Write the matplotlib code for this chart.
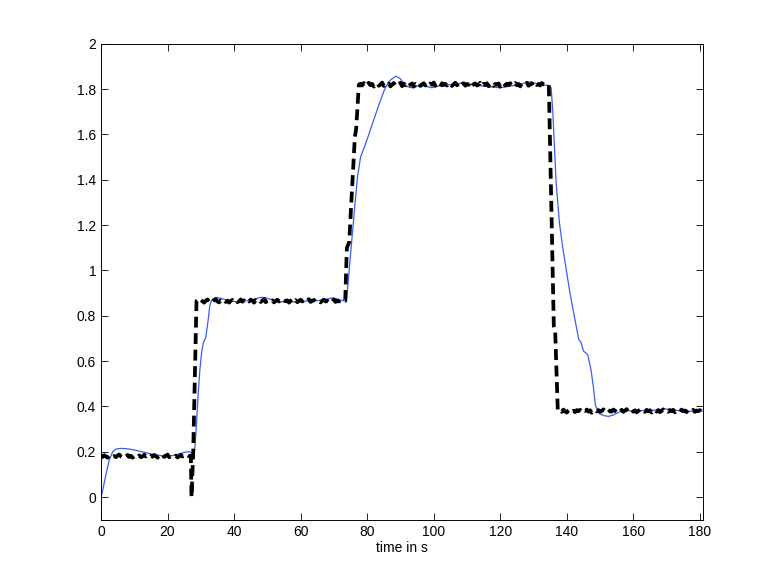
import matplotlib
matplotlib.use('Agg')
import matplotlib.pyplot as plt
from matplotlib.ticker import FormatStrFormatter, MultipleLocator
import numpy as np

plt.rcParams['font.family'] = ['Liberation Sans', 'DejaVu Sans']

# measured reference signal (black, noisy), sampled every 0.5 s on the flat parts
dt = 0.5
seg_start = [0, 29, 78, 138]
seg1_y = [0.183, 0.177, 0.185, 0.179, 0.174, 0.182, 0.187, 0.178, 0.181, 0.176,
          0.184, 0.188, 0.179, 0.175, 0.183, 0.180, 0.186, 0.177, 0.182, 0.174,
          0.181, 0.185, 0.178, 0.184, 0.176, 0.180, 0.187, 0.179, 0.183, 0.175,
          0.182, 0.178, 0.186, 0.181, 0.174, 0.184, 0.179, 0.185, 0.177, 0.182,
          0.188, 0.176, 0.181, 0.184, 0.178, 0.183, 0.175, 0.180, 0.186, 0.179,
          0.182, 0.177, 0.185, 0.180, 0.183]
seg2_y = [0.868, 0.861, 0.870, 0.864, 0.858, 0.867, 0.872, 0.862, 0.866, 0.860,
          0.869, 0.873, 0.863, 0.859, 0.868, 0.865, 0.871, 0.861, 0.867, 0.858,
          0.866, 0.870, 0.863, 0.869, 0.860, 0.864, 0.872, 0.862, 0.868, 0.859,
          0.867, 0.863, 0.871, 0.866, 0.858, 0.869, 0.864, 0.870, 0.861, 0.867,
          0.873, 0.860, 0.866, 0.869, 0.862, 0.868, 0.859, 0.865, 0.871, 0.863,
          0.867, 0.861, 0.870, 0.864, 0.868, 0.858, 0.866, 0.872, 0.862, 0.869,
          0.860, 0.865, 0.871, 0.863, 0.867, 0.859, 0.868, 0.873, 0.861, 0.866,
          0.870, 0.862, 0.868, 0.864, 0.859, 0.867, 0.871, 0.863, 0.866, 0.860,
          0.869, 0.864, 0.872, 0.861, 0.867, 0.863, 0.870, 0.865, 0.866]
seg3_y = [1.824, 1.816, 1.827, 1.813, 1.821, 1.828, 1.817, 1.823, 1.811, 1.822,
          1.826, 1.815, 1.820, 1.829, 1.814, 1.823, 1.818, 1.825, 1.812, 1.821,
          1.827, 1.816, 1.822, 1.819, 1.828, 1.813, 1.824, 1.817, 1.826, 1.815,
          1.820, 1.825, 1.811, 1.823, 1.818, 1.827, 1.814, 1.821, 1.826, 1.816,
          1.822, 1.813, 1.825, 1.819, 1.829, 1.815, 1.821, 1.824, 1.812, 1.826,
          1.818, 1.823, 1.816, 1.827, 1.820, 1.814, 1.822, 1.828, 1.817, 1.824,
          1.813, 1.821, 1.826, 1.815, 1.823, 1.819, 1.827, 1.812, 1.822, 1.825,
          1.816, 1.820, 1.828, 1.814, 1.824, 1.818, 1.826, 1.813, 1.821, 1.827,
          1.815, 1.823, 1.819, 1.825, 1.811, 1.822, 1.828, 1.816, 1.824, 1.818,
          1.826, 1.814, 1.821, 1.827, 1.817, 1.823, 1.812, 1.825, 1.819, 1.822,
          1.828, 1.815, 1.820, 1.826, 1.813, 1.824, 1.818, 1.823, 1.816, 1.827,
          1.821, 1.819, 1.822]
seg4_y = [0.383, 0.376, 0.386, 0.378, 0.373, 0.382, 0.387, 0.377, 0.381, 0.375,
          0.384, 0.379, 0.385, 0.374, 0.382, 0.380, 0.386, 0.377, 0.383, 0.372,
          0.381, 0.385, 0.378, 0.384, 0.376, 0.380, 0.387, 0.379, 0.383, 0.374,
          0.382, 0.377, 0.386, 0.381, 0.375, 0.384, 0.378, 0.385, 0.376, 0.382,
          0.388, 0.375, 0.381, 0.384, 0.377, 0.383, 0.374, 0.380, 0.386, 0.378,
          0.382, 0.376, 0.385, 0.379, 0.383, 0.373, 0.381, 0.386, 0.377, 0.384,
          0.375, 0.380, 0.387, 0.378, 0.382, 0.376, 0.384, 0.379, 0.385, 0.374,
          0.381, 0.383, 0.377, 0.386, 0.379, 0.382, 0.375, 0.384, 0.380, 0.378,
          0.385, 0.376, 0.382, 0.379, 0.384, 0.377, 0.381]

# the steps between the flat parts
step1_t = [27.2, 27.7, 28.7]
step1_y = [0.0, 0.19, 0.865]
step2_t = [73.4, 73.9, 74.6, 76.3, 76.7, 77.5]
step2_y = [0.866, 1.10, 1.125, 1.59, 1.625, 1.82]
step3_t = [134.6, 136.1, 136.5, 137.3]
step3_y = [1.82, 0.755, 0.738, 0.38]

# simulated response (blue)
sim_t = [0, 0.5, 1.5, 2.5, 3.5, 4.5, 6, 8, 10, 12,
         14, 16, 18, 20, 22, 24, 25.5, 26.5, 27.4, 27.9,
         28.2, 28.7, 29.2, 29.7, 30.2, 30.7, 31.5, 32.2, 32.7, 33.2,
         34, 34.7, 36, 38, 40, 42, 44, 46, 48, 49.5,
         51, 53, 55, 58, 61, 64, 66, 68, 69.5, 71,
         72.5, 73.8, 74.5, 75.3, 76.2, 77.1, 77.6, 78, 79.3, 80.5,
         82, 83.5, 85, 85.8, 87, 88.6, 89.8, 91, 92.2, 93.4,
         95, 97, 99.4, 101.5, 104, 106.5, 108.7, 111, 114, 117,
         119.8, 122.5, 125, 127, 128.8, 130.5, 132, 134, 134.8, 135.3,
         135.8, 136.8, 137.8, 138.8, 140.8, 142.3, 143.6, 144.3, 145.0, 146.3,
         147.3, 148.0, 148.6, 149.8, 151, 152.5, 154, 155.8, 158, 161,
         164, 167, 169.4, 171.5, 174, 177, 181]
sim_y = [0.0, 0.03, 0.10, 0.165, 0.20, 0.212, 0.215, 0.213, 0.208, 0.201,
         0.194, 0.188, 0.183, 0.181, 0.184, 0.193, 0.199, 0.200, 0.195, 0.189,
         0.215, 0.322, 0.455, 0.559, 0.633, 0.677, 0.706, 0.78, 0.845, 0.867,
         0.878, 0.881, 0.877, 0.868, 0.863, 0.862, 0.866, 0.873, 0.881, 0.880,
         0.872, 0.864, 0.861, 0.862, 0.865, 0.866, 0.868, 0.874, 0.879, 0.874,
         0.867, 0.866, 0.985, 1.12, 1.27, 1.415, 1.46, 1.50, 1.55, 1.60,
         1.665, 1.73, 1.79, 1.815, 1.840, 1.857, 1.848, 1.826, 1.810, 1.806,
         1.812, 1.815, 1.806, 1.814, 1.818, 1.822, 1.828, 1.822, 1.815, 1.81,
         1.806, 1.812, 1.818, 1.826, 1.832, 1.826, 1.818, 1.817, 1.816, 1.805,
         1.70, 1.387, 1.209, 1.10, 0.914, 0.795, 0.695, 0.682, 0.645, 0.628,
         0.560, 0.485, 0.405, 0.368, 0.360, 0.356, 0.362, 0.376, 0.380, 0.382,
         0.381, 0.384, 0.389, 0.386, 0.380, 0.379, 0.380]

segs = [seg1_y, seg2_y, seg3_y, seg4_y]
seg_t = [np.arange(len(s)) * dt + t0 for s, t0 in zip(segs, seg_start)]
ref_t = np.concatenate([seg_t[0], step1_t, seg_t[1], step2_t, seg_t[2], step3_t, seg_t[3]])
ref_y = np.concatenate([seg1_y, step1_y, seg2_y, step2_y, seg3_y, step3_y, seg4_y])

fig = plt.figure(figsize=(7.77, 5.84), dpi=100)
ax = fig.add_axes([0.13, 0.11, 0.775, 0.815])

ax.plot(sim_t, sim_y, color='#3a5ef5', lw=0.9, zorder=2)
line, = ax.plot(ref_t, ref_y, color='black', lw=2.7, zorder=3)
line.set_dashes([2.9, 1.5])

ax.set_xlim(0, 181)
ax.set_ylim(-0.1, 2)
ax.xaxis.set_major_locator(MultipleLocator(20))
ax.yaxis.set_major_locator(MultipleLocator(0.2))
ax.yaxis.set_major_formatter(FormatStrFormatter('%g'))
ax.tick_params(direction='in', top=True, right=True, length=5, width=0.6, labelsize=10)
for sp in ax.spines.values():
    sp.set_linewidth(0.7)
ax.set_xlabel("time in s", fontsize=10, labelpad=2)

plt.savefig("out.png")
plt.close()
